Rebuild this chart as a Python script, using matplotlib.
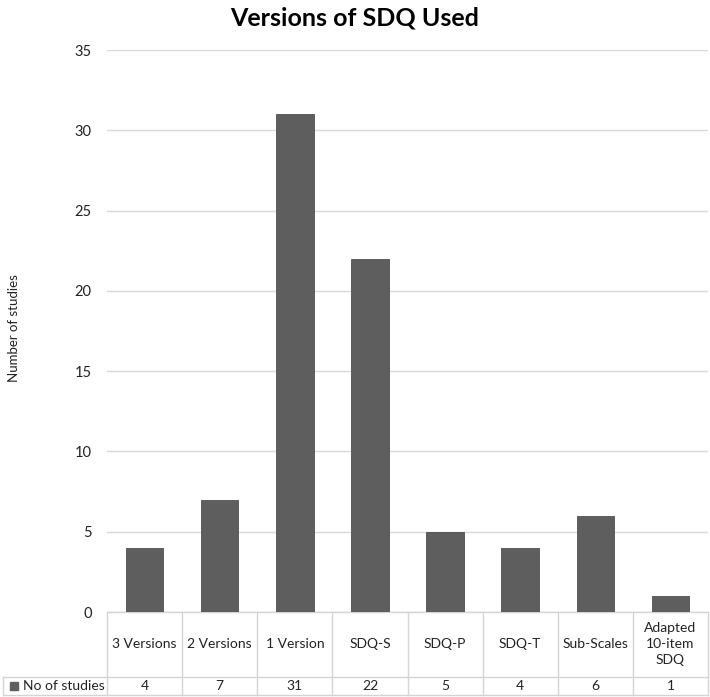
import matplotlib as mpl
mpl.use('Agg')
import matplotlib.pyplot as plt
from matplotlib.transforms import blended_transform_factory

categories = ['3 Versions', '2 Versions', '1 Version', 'SDQ-S', 'SDQ-P',
              'SDQ-T', 'Sub-Scales', 'Adapted\n10-item\nSDQ']
studies = [4, 7, 31, 22, 5, 4, 6, 1]
series_name = 'No of studies'
yticks = [0, 5, 10, 15, 20, 25, 30, 35]

plt.rcParams['font.family'] = ['Lato', 'DejaVu Sans']

W, H = 710, 697
fig = plt.figure(figsize=(W / 100, H / 100), dpi=100)
left, right, bottom, top = 107, 708, 612, 50
ax = fig.add_axes([left / W, (H - bottom) / H, (right - left) / W, (bottom - top) / H])

x = list(range(len(categories)))
ax.bar(x, studies, width=0.5, color='#5e5e5e', edgecolor='#4f4f4f', linewidth=0.6, zorder=3)
ax.set_xlim(-0.5, len(categories) - 0.5)
ax.set_ylim(0, 35)
ax.set_yticks(yticks)
ax.tick_params(axis='y', length=0, pad=11, labelsize=10.5, labelcolor='#222222')
ax.set_xticks([])
ax.grid(axis='y', color='#d9d9d9', linewidth=1.0, zorder=0)
for s in ax.spines.values():
    s.set_visible(False)

fig.text(0.5, 1 - 18 / H, 'Versions of SDQ Used', ha='center', va='center',
         fontsize=18, fontweight='bold')
fig.text(14 / W, 1 - 328 / H, 'Number of studies', rotation=90, ha='center',
         va='center', fontsize=9.5, color='#222222')

# data table under the axis
axh = bottom - top
y_head = -(677 - bottom) / axh
y_end = -(695 - bottom) / axh
x_far = -(left - 3) / (right - left)
lc = '#d4d4d4'
tr = blended_transform_factory(ax.transData, ax.transAxes)
ax.plot([0, 1], [0, 0], transform=ax.transAxes, color=lc, lw=1, clip_on=False)
for yy in (y_head, y_end):
    ax.plot([x_far, 1], [yy, yy], transform=ax.transAxes, color=lc, lw=1, clip_on=False)
ax.plot([x_far, x_far], [y_head, y_end], transform=ax.transAxes, color=lc, lw=1, clip_on=False)
for i in range(len(categories) + 1):
    xe = i - 0.5
    ax.plot([xe, xe], [0, y_end], transform=tr, color=lc, lw=1, clip_on=False)
for i, (c, v) in enumerate(zip(categories, studies)):
    ax.text(i, y_head / 2, c, transform=tr, ha='center', va='center',
            fontsize=10, color='#222222', linespacing=1.4)
    ax.text(i, (y_head + y_end) / 2, str(v), transform=tr, ha='center',
            va='center', fontsize=10, color='#222222')
ax.plot([x_far + 0.018], [(y_head + y_end) / 2], marker='s', ms=6, color='#5e5e5e',
        transform=ax.transAxes, clip_on=False)
ax.text(x_far + 0.033, (y_head + y_end) / 2, series_name, transform=ax.transAxes,
        ha='left', va='center', fontsize=10, color='#222222')

fig.savefig('out.png', dpi=100)
